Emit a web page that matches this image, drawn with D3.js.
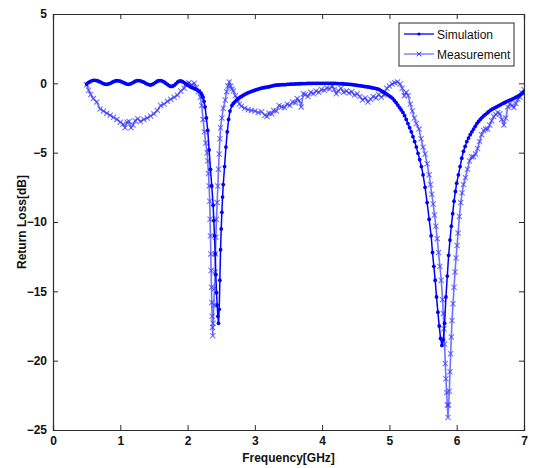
<!DOCTYPE html>
<html><head><meta charset="utf-8">
<script src="https://cdn.jsdelivr.net/npm/d3@7"></script>
<style>body{margin:0;background:#fff}svg{display:block}</style>
</head><body>
<svg id="c" width="536" height="468"></svg>
<script>
const xTicks=[0,1,2,3,4,5,6,7];
const yTicks=[5,0,-5,-10,-15,-20,-25];
const seriesNames=["Simulation","Measurement"];
// [frequency GHz, return loss dB]
const simulation=[
[0.500,-0.05],[0.525,0.05],[0.550,0.12],[0.575,0.18],[0.600,0.22],[0.625,0.22],[0.650,0.20],[0.675,0.15],[0.700,0.10],[0.725,0.04],
[0.750,-0.02],[0.775,-0.06],[0.800,-0.07],[0.825,-0.04],[0.850,0.00],[0.875,0.06],[0.900,0.12],[0.925,0.17],[0.950,0.19],[0.975,0.18],
[1.000,0.15],[1.025,0.10],[1.050,0.05],[1.075,-0.01],[1.100,-0.06],[1.125,-0.07],[1.150,-0.04],[1.175,0.02],[1.200,0.08],[1.225,0.15],
[1.250,0.20],[1.275,0.20],[1.300,0.18],[1.325,0.13],[1.350,0.08],[1.375,0.01],[1.400,-0.05],[1.425,-0.10],[1.450,-0.12],[1.475,-0.08],
[1.500,-0.02],[1.525,0.07],[1.550,0.15],[1.575,0.19],[1.600,0.20],[1.625,0.16],[1.650,0.10],[1.675,0.01],[1.700,-0.08],[1.725,-0.17],
[1.750,-0.22],[1.775,-0.21],[1.800,-0.15],[1.825,-0.04],[1.850,0.08],[1.875,0.15],[1.900,0.17],[1.925,0.12],[1.950,0.05],[1.975,-0.04],
[2.000,-0.12],[2.025,-0.20],[2.050,-0.28],[2.075,-0.33],[2.100,-0.38],[2.125,-0.43],[2.150,-0.50],[2.175,-0.58],[2.200,-0.70],[2.215,-0.85],
[2.230,-1.0],[2.245,-1.3],[2.26,-1.7],[2.28,-2.5],[2.30,-3.4],[2.32,-4.8],[2.34,-6.2],[2.36,-7.4],[2.38,-8.8],[2.39,-9.9],
[2.40,-11.0],[2.41,-12.3],[2.42,-13.8],[2.43,-15.1],[2.44,-16.0],[2.45,-16.8],[2.46,-17.3],[2.47,-16.3],[2.48,-14.2],[2.49,-12.0],
[2.50,-10.5],[2.51,-9.3],[2.52,-8.2],[2.53,-7.3],[2.55,-6.0],[2.57,-4.6],[2.59,-3.5],[2.61,-2.6],[2.63,-2.0],[2.66,-1.6],
[2.68,-1.45],[2.70,-1.35],[2.725,-1.22],[2.75,-1.1],[2.775,-1.02],[2.80,-0.95],[2.825,-0.87],[2.85,-0.8],[2.875,-0.74],[2.90,-0.68],
[2.925,-0.63],[2.95,-0.58],[2.975,-0.54],[3.00,-0.5],[3.025,-0.46],[3.05,-0.42],[3.075,-0.38],[3.10,-0.35],[3.125,-0.32],[3.15,-0.3],
[3.175,-0.28],[3.20,-0.26],[3.225,-0.23],[3.25,-0.2],[3.275,-0.17],[3.30,-0.14],[3.325,-0.13],[3.35,-0.12],[3.375,-0.11],[3.40,-0.1],
[3.425,-0.1],[3.45,-0.1],[3.475,-0.08],[3.50,-0.07],[3.525,-0.06],[3.55,-0.05],[3.575,-0.05],[3.60,-0.04],[3.625,-0.04],[3.65,-0.03],
[3.675,-0.03],[3.70,-0.02],[3.725,-0.02],[3.75,-0.02],[3.775,-0.01],[3.80,-0.01],[3.825,-0.01],[3.85,0],[3.875,0],[3.90,0],
[3.925,0],[3.95,0],[3.975,0],[4.00,0],[4.025,0],[4.05,0],[4.075,0],[4.10,0],[4.125,0],[4.15,0],
[4.175,-0.01],[4.20,-0.01],[4.225,-0.02],[4.25,-0.02],[4.275,-0.03],[4.30,-0.03],[4.325,-0.04],[4.35,-0.05],[4.375,-0.06],[4.40,-0.07],
[4.425,-0.08],[4.45,-0.1],[4.475,-0.11],[4.50,-0.13],[4.525,-0.15],[4.55,-0.17],[4.575,-0.18],[4.60,-0.2],[4.625,-0.22],[4.65,-0.24],
[4.675,-0.26],[4.70,-0.28],[4.725,-0.3],[4.75,-0.33],[4.775,-0.35],[4.80,-0.38],[4.825,-0.41],[4.85,-0.45],[4.875,-0.52],[4.90,-0.6],
[4.925,-0.67],[4.95,-0.75],[4.975,-0.83],[5.00,-0.92],[5.025,-1.0],[5.05,-1.1],[5.075,-1.25],[5.10,-1.4],[5.125,-1.57],[5.15,-1.75],
[5.175,-1.92],[5.20,-2.1],[5.225,-2.33],[5.25,-2.6],[5.275,-2.9],[5.30,-3.2],[5.325,-3.5],[5.35,-3.85],[5.375,-4.2],[5.40,-4.6],
[5.425,-5.05],[5.45,-5.5],[5.475,-6.0],[5.50,-6.6],[5.53,-7.5],[5.56,-8.6],[5.59,-9.8],[5.62,-11.0],[5.64,-12.2],[5.66,-13.2],
[5.68,-14.2],[5.70,-15.4],[5.72,-16.5],[5.74,-17.5],[5.76,-18.4],[5.78,-18.9],[5.80,-18.5],[5.82,-17.3],[5.84,-15.4],[5.86,-13.9],
[5.88,-12.4],[5.90,-11.3],[5.92,-10.3],[5.94,-9.4],[5.96,-8.5],[5.98,-7.8],[6.00,-7.2],[6.025,-6.6],[6.05,-6.0],[6.075,-5.4],
[6.10,-4.9],[6.125,-4.55],[6.15,-4.2],[6.175,-3.95],[6.20,-3.7],[6.225,-3.5],[6.25,-3.3],[6.275,-3.1],[6.30,-2.9],[6.325,-2.75],
[6.35,-2.6],[6.375,-2.47],[6.40,-2.35],[6.425,-2.25],[6.45,-2.15],[6.475,-2.05],[6.50,-1.95],[6.525,-1.87],[6.55,-1.8],[6.575,-1.74],
[6.60,-1.68],[6.625,-1.61],[6.65,-1.55],[6.675,-1.48],[6.70,-1.42],[6.725,-1.36],[6.75,-1.3],[6.775,-1.25],[6.80,-1.2],[6.825,-1.14],
[6.85,-1.08],[6.875,-1.02],[6.90,-0.96],[6.925,-0.88],[6.95,-0.8],[6.975,-0.7],[7.00,-0.6]];
const measurement=[
[0.50,-0.1],[0.53,-0.5],[0.56,-0.8],[0.60,-1.1],[0.65,-1.35],[0.70,-1.85],[0.75,-2.0],[0.80,-2.15],[0.85,-2.3],[0.90,-2.45],
[0.95,-2.6],[1.00,-2.8],[1.04,-2.95],[1.07,-3.2],[1.10,-2.8],[1.13,-2.75],[1.16,-3.2],[1.19,-3.0],[1.22,-2.7],[1.26,-2.55],
[1.30,-2.75],[1.35,-2.6],[1.40,-2.5],[1.45,-2.35],[1.50,-2.2],[1.55,-1.95],[1.60,-1.6],[1.65,-1.5],[1.70,-1.3],[1.75,-1.15],
[1.80,-1.0],[1.85,-0.85],[1.90,-0.55],[1.95,-0.35],[1.98,-0.05],[2.02,0.05],[2.06,-0.1],[2.10,0.0],[2.13,-0.3],[2.16,-0.6],
[2.19,-1.0],[2.21,-1.6],[2.23,-2.6],[2.25,-3.5],[2.27,-4.3],[2.29,-5.0],[2.30,-5.6],[2.31,-6.5],[2.32,-7.4],[2.33,-8.5],
[2.335,-9.8],[2.34,-11.0],[2.345,-12.3],[2.35,-13.5],[2.355,-14.7],[2.36,-15.8],[2.365,-16.8],[2.37,-17.6],[2.375,-18.2],[2.38,-17.3],
[2.39,-16.0],[2.40,-14.8],[2.41,-13.6],[2.415,-12.3],[2.42,-11.1],[2.43,-9.8],[2.44,-8.6],[2.45,-7.4],[2.46,-6.2],[2.47,-5.1],
[2.48,-4.0],[2.49,-3.2],[2.51,-2.5],[2.53,-1.8],[2.56,-1.2],[2.58,-0.6],[2.60,-0.2],[2.62,0.1],[2.64,-0.2],[2.66,-0.4],
[2.68,-0.55],[2.71,-0.9],[2.74,-1.1],[2.77,-1.5],[2.80,-1.65],[2.85,-1.8],[2.90,-1.9],[2.95,-1.95],[3.00,-2.0],[3.05,-2.1],
[3.10,-2.05],[3.15,-2.3],[3.18,-2.4],[3.21,-2.15],[3.25,-2.2],[3.28,-1.95],[3.32,-2.0],[3.36,-1.6],[3.40,-1.7],[3.44,-1.75],
[3.48,-1.5],[3.52,-1.6],[3.56,-1.35],[3.60,-1.4],[3.63,-1.1],[3.66,-1.25],[3.69,-1.7],[3.72,-0.75],[3.75,-0.8],[3.79,-0.95],
[3.83,-0.65],[3.87,-0.75],[3.91,-0.55],[3.95,-0.65],[3.99,-0.45],[4.03,-0.5],[4.07,-0.35],[4.11,-0.4],[4.15,-0.2],[4.18,-0.45],
[4.21,-0.75],[4.24,-0.55],[4.28,-0.35],[4.32,-0.65],[4.36,-0.55],[4.40,-0.7],[4.44,-0.6],[4.48,-0.85],[4.52,-0.75],[4.56,-0.95],
[4.60,-1.2],[4.64,-1.05],[4.68,-1.35],[4.72,-1.15],[4.76,-0.95],[4.80,-1.05],[4.84,-0.8],[4.88,-1.0],[4.92,-0.85],[4.96,-0.35],
[5.00,-0.2],[5.04,-0.05],[5.08,0.05],[5.12,0.1],[5.16,-0.05],[5.19,-0.35],[5.22,-0.9],[5.25,-0.65],[5.28,-0.9],[5.31,-1.5],
[5.34,-2.0],[5.37,-2.5],[5.40,-2.9],[5.44,-3.3],[5.47,-4.0],[5.50,-4.6],[5.53,-5.1],[5.56,-5.8],[5.59,-6.6],[5.61,-7.3],
[5.63,-8.0],[5.65,-8.7],[5.67,-9.5],[5.69,-10.3],[5.71,-11.2],[5.73,-12.2],[5.75,-13.2],[5.77,-14.2],[5.79,-15.6],[5.80,-16.6],
[5.81,-17.7],[5.82,-18.8],[5.83,-20.2],[5.84,-21.3],[5.85,-22.3],[5.86,-23.2],[5.87,-24.1],[5.88,-23.2],[5.89,-22.2],[5.90,-20.8],
[5.91,-19.5],[5.92,-18.3],[5.93,-17.1],[5.945,-15.9],[5.96,-14.7],[5.975,-13.6],[5.99,-12.6],[6.005,-11.7],[6.02,-10.8],[6.04,-9.6],
[6.06,-8.6],[6.08,-7.9],[6.10,-7.3],[6.13,-6.8],[6.16,-6.2],[6.19,-5.6],[6.22,-5.3],[6.25,-5.3],[6.28,-5.1],[6.31,-4.7],
[6.34,-4.2],[6.37,-3.7],[6.40,-3.4],[6.43,-3.3],[6.46,-3.3],[6.49,-3.0],[6.52,-2.7],[6.55,-2.4],[6.58,-2.25],[6.61,-2.1],
[6.64,-2.2],[6.67,-2.6],[6.70,-3.0],[6.73,-2.5],[6.76,-1.7],[6.79,-1.5],[6.82,-1.6],[6.85,-1.75],[6.88,-1.45],[6.91,-1.15],
[6.94,-1.0],[6.97,-0.7],[7.00,-0.45]];

const svg=d3.select("#c");
const L=53,R=524,T=14,B=430;
const x=d3.scaleLinear().domain([0,7]).range([L,R]);
const y=d3.scaleLinear().domain([-25,5]).range([B,T]);
const font="'Liberation Sans',Arial,sans-serif";
const axisCol="#2b2b2b";

svg.append("clipPath").attr("id","clip").append("rect").attr("x",L).attr("y",T-3).attr("width",R-L).attr("height",B-T+3);

const gx=svg.append("g").attr("transform",`translate(0,${B})`).call(d3.axisBottom(x).tickValues(xTicks).tickSize(-5).tickPadding(6).tickFormat(d3.format("d")));
const gxt=svg.append("g").attr("transform",`translate(0,${T})`).call(d3.axisTop(x).tickValues(xTicks).tickSize(-5).tickFormat(""));
const gy=svg.append("g").attr("transform",`translate(${L},0)`).call(d3.axisLeft(y).tickValues(yTicks).tickSize(-5).tickPadding(6).tickFormat(d3.format("d")));
const gyr=svg.append("g").attr("transform",`translate(${R},0)`).call(d3.axisRight(y).tickValues(yTicks).tickSize(-5).tickFormat(""));
[gx,gxt,gy,gyr].forEach(g=>{
  g.select(".domain").attr("stroke",axisCol).attr("stroke-width",1.2);
  g.selectAll(".tick line").attr("stroke",axisCol);
  g.selectAll(".tick text").attr("fill","#111").style("font-family",font).style("font-size","12px").style("font-weight","bold");
});

const plot=svg.append("g").attr("clip-path","url(#clip)");
const line=d3.line().x(d=>x(d[0])).y(d=>y(d[1]));

const measCol="#7070ff", measMark="#3a3aff", simCol="#0000ff";
plot.append("path").attr("d",line(measurement)).attr("fill","none").attr("stroke",measCol).attr("stroke-width",1.6);
const xs=2.6;
plot.append("g").selectAll("path").data(measurement).join("path")
  .attr("d",d=>{const cx=x(d[0]),cy=y(d[1]);return `M${cx-xs},${cy-xs}L${cx+xs},${cy+xs}M${cx-xs},${cy+xs}L${cx+xs},${cy-xs}`;})
  .attr("stroke",measMark).attr("stroke-width",1.1).attr("opacity",0.7);
plot.append("path").attr("d",line(simulation)).attr("fill","none").attr("stroke",simCol).attr("stroke-width",1.5);
plot.append("g").selectAll("circle").data(simulation).join("circle")
  .attr("cx",d=>x(d[0])).attr("cy",d=>y(d[1])).attr("r",1.9).attr("fill",simCol);

svg.append("text").attr("x",(L+R)/2).attr("y",462).attr("text-anchor","middle")
  .style("font-family",font).style("font-size","12px").style("font-weight","bold").attr("fill","#111").text("Frequency[GHz]");
svg.append("text").attr("transform",`translate(26,${(T+B)/2}) rotate(-90)`).attr("text-anchor","middle")
  .style("font-family",font).style("font-size","12px").style("font-weight","bold").attr("fill","#111").text("Return Loss[dB]");

const lg=svg.append("g");
lg.append("rect").attr("x",399).attr("y",23).attr("width",115).attr("height",43).attr("fill","#fff").attr("stroke",axisCol).attr("stroke-width",1);
const ly=[34,54];
lg.append("line").attr("x1",404).attr("x2",434).attr("y1",ly[0]).attr("y2",ly[0]).attr("stroke",simCol).attr("stroke-width",1.3);
lg.append("circle").attr("cx",419).attr("cy",ly[0]).attr("r",1.6).attr("fill",simCol);
lg.append("line").attr("x1",404).attr("x2",434).attr("y1",ly[1]).attr("y2",ly[1]).attr("stroke",measCol).attr("stroke-width",1.3);
lg.append("path").attr("d",`M${419-2.3},${ly[1]-2.3}L${419+2.3},${ly[1]+2.3}M${419-2.3},${ly[1]+2.3}L${419+2.3},${ly[1]-2.3}`).attr("stroke",measMark).attr("stroke-width",1);
seriesNames.forEach((n,i)=>{
  lg.append("text").attr("x",437).attr("y",ly[i]+4.5).style("font-family",font).style("font-size","12px").attr("fill","#111").text(n);
});
</script>
</body></html>
